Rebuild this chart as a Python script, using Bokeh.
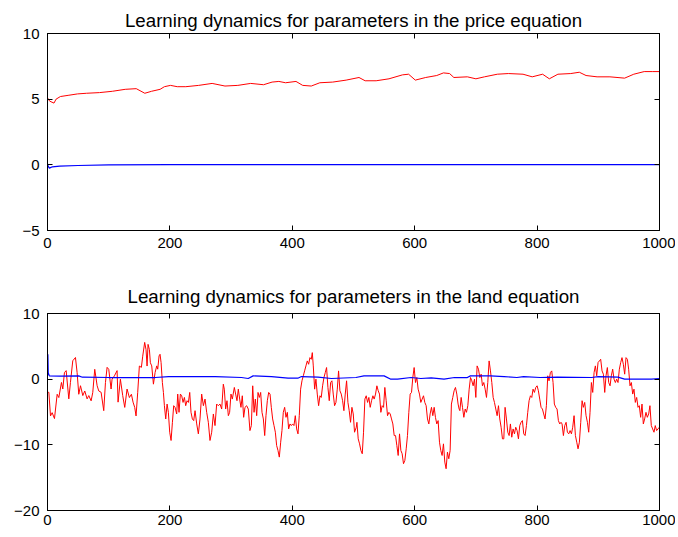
from bokeh.plotting import figure
from bokeh.layouts import column
from bokeh.models import LinearAxis, FixedTicker, Range1d, CustomJSTickFormatter
from bokeh.embed import file_html
from bokeh.resources import INLINE

# ---------------- data ----------------
title_price = "Learning dynamics for parameters in the price equation"
title_land = "Learning dynamics for parameters in the land equation"
x_ticks = [0, 200, 400, 600, 800, 1000]
price_y_ticks = [-5, 0, 5, 10]
land_y_ticks = [-20, -10, 0, 10]

price_red_x = [0, 3.5, 10.6, 14, 21, 35, 49, 64, 85, 106, 127, 145, 159, 170, 184, 191, 201, 212, 226, 247,
               269, 290, 311, 332, 353, 367, 378, 389, 406, 417, 431, 445, 466, 488, 509, 519, 537, 558, 580, 590,
               601, 618, 636, 647, 657, 664, 686, 700, 714, 735, 753, 777, 792, 809, 820, 834, 855, 869, 880, 898,
               919, 943, 958, 975, 989, 1000]
price_red_y = [5.1, 4.85, 4.7, 5.0, 5.2, 5.3, 5.4, 5.45, 5.5, 5.6, 5.75, 5.8, 5.45, 5.6, 5.75, 5.95, 6.05, 5.95, 5.95, 6.05,
               6.2, 6.0, 6.05, 6.2, 6.1, 6.3, 6.35, 6.25, 6.35, 6.05, 6.0, 6.25, 6.3, 6.45, 6.65, 6.4, 6.4, 6.55, 6.85, 6.9,
               6.45, 6.65, 6.8, 7.0, 6.95, 6.65, 6.7, 6.55, 6.7, 6.9, 6.95, 6.9, 6.7, 6.9, 6.55, 6.9, 6.95, 7.05, 6.8, 6.7,
               6.7, 6.6, 6.9, 7.1, 7.1, 7.1]

price_blue_x = [0, 1, 3, 8, 20, 50, 100, 200, 400, 600, 800, 1000]
price_blue_y = [0.1, -0.1, -0.25, -0.15, -0.1, -0.05, 0.0, 0.02, 0.02, 0.02, 0.02, 0.02]

land_red_x = [0.5, 2.2, 4.9, 7.6, 11.4, 15.8, 18.5, 22.8, 25.0, 27.7, 30.5, 34.8, 37.5, 41.3, 45.7, 48.4, 51.1, 53.9,
              57.7, 60.9, 64.7, 67.5, 71.3, 74.0, 77.2, 81.1, 83.8, 87.6, 91.9, 94.7, 97.4, 100.1, 103.9, 105.5, 109.3,
              113.7, 115.3, 119.1, 122.9, 126.2, 130.0, 133.8, 137.1, 139.8, 142.5, 144.7, 147.4, 150.1, 153.4, 155.6,
              158.8, 161.0, 162.7, 164.3, 166.5, 168.1,
              170.3, 173.1, 175.8, 178.5, 180.1, 182.3, 183.9, 185.6, 187.7, 189.4, 191.0, 193.2, 195.4, 197.5, 199.7,
              201.9, 204.1, 206.2, 208.4, 211.1, 212.8, 214.9, 217.1, 219.3, 221.5, 223.7, 225.8, 228.0, 230.2, 232.4,
              234.5, 236.7, 238.9, 241.1, 243.8, 246.5, 249.2, 251.9, 254.7, 257.4, 260.1, 262.8, 265.5, 268.3, 271.0,
              273.7, 276.4, 279.1, 281.9, 284.6, 287.3, 288.9, 291.1, 293.3, 295.5, 297.6, 299.8, 302.0, 305.3, 307.4,
              309.6, 311.8, 314.0, 316.1, 318.3, 320.5, 322.7, 325.4, 328.1, 330.8,
              333.1, 335.3, 337.5, 339.6, 341.8, 344.0, 346.2, 348.3, 350.5, 352.7, 354.9, 357.0, 359.2, 361.4, 363.6,
              365.7, 367.9, 370.1, 372.3, 374.4, 376.6, 378.8, 381.0, 383.1, 385.3, 387.5, 389.7, 391.9, 394.0, 396.2,
              398.4, 400.6, 402.7, 404.9, 407.1, 409.3, 411.4, 413.6, 415.8, 418.0, 420.1, 422.3, 424.5, 426.7, 428.8,
              431.0, 432.7, 434.3, 436.5, 438.6, 440.8, 443.0, 445.2, 447.3, 449.5, 451.7, 453.9, 456.0, 458.2, 460.4,
              462.6, 464.7, 466.9, 469.1, 471.3, 473.5, 475.6, 477.8, 480.0, 482.2, 484.3, 486.5, 488.7, 490.9, 493.0,
              495.2, 497.4, 499.6, 501.7, 504.5,
              505.6, 507.7, 509.9, 512.1, 514.3, 516.4, 518.6, 520.8, 523.0, 525.1, 527.3, 529.5, 531.7, 533.8, 536.0,
              538.2, 540.4, 542.5, 544.7, 546.9, 549.1, 551.2, 553.4, 555.6, 557.8, 560.0, 562.1, 564.3, 566.5, 568.7,
              570.8, 573.0, 575.2, 577.4, 579.5, 581.7, 583.9, 586.1, 588.2, 590.4, 592.6, 594.8, 596.9, 599.1, 601.3,
              603.5, 605.6, 607.8, 610.0, 612.2, 614.4, 616.5, 618.7, 620.9, 623.1, 625.2, 627.4, 629.6, 631.8, 633.9,
              636.1, 638.3, 640.5, 642.6, 644.8, 647.0, 649.2, 651.3, 653.5, 655.7, 657.9, 660.0, 662.2, 664.4, 666.6,
              668.8, 670.9, 672.6,
              673.8, 675.9, 678.1, 680.3, 682.5, 684.6, 686.8, 689.0, 691.2, 693.3, 695.5, 697.7, 699.9, 702.0, 704.2,
              706.4, 708.6, 710.7, 712.9, 715.1, 717.3, 719.4, 721.6, 723.8, 726.0, 728.2, 730.3, 732.5, 734.7, 736.9,
              739.0, 741.2, 743.4, 745.6, 747.7, 749.9, 752.1, 754.3, 756.4, 758.6, 760.8, 763.0, 765.1, 767.3, 769.5,
              771.7, 773.8, 776.0, 778.2, 780.4, 782.6, 784.7, 786.9, 789.1, 791.3, 793.4, 795.6, 797.8, 800.0, 802.1,
              804.3, 806.5, 808.7, 810.8, 813.0, 815.2, 817.4, 819.5, 821.7, 823.9, 826.1, 828.2, 830.4, 832.6, 834.8,
              837.0, 839.1, 840.8,
              843.0, 845.2, 847.4, 849.5, 851.7, 853.9, 856.1, 858.2, 860.4, 862.6, 864.8, 866.9, 869.1, 871.3, 873.5,
              875.6, 877.8, 880.0, 882.2, 884.3, 886.5, 888.7, 890.9, 893.1, 895.2, 897.4, 899.6, 901.8, 903.9, 906.1,
              908.3, 910.5, 912.6, 914.8, 917.0, 919.2, 921.3, 923.5, 925.7, 927.9, 930.0, 932.2, 934.4, 936.6, 938.7,
              940.9, 943.1, 945.3, 947.5, 949.6, 951.8, 954.0, 956.2, 958.3, 960.5, 962.7, 964.9, 967.0, 969.2, 971.4,
              973.6, 975.7, 977.9, 980.1, 982.3, 984.4, 986.6, 988.8, 991.0, 993.1, 995.3, 997.5, 1000.0]
land_red_y = [-2.0, -2.0, -5.6, -5.1, -6.0, -2.3, -2.8, -0.5, -1.5, 1.0, 1.3, -3.0, -0.5, 2.8, 3.3, 1.0, -2.3, -1.0,
              -2.5, -1.8, -3.0, -2.5, -3.3, -2.0, 1.5, -1.0, -1.8, -2.0, -4.8, -0.5, 1.8, 1.5, -1.5, 0.0, 0.5,
              1.3, -3.5, 0.0, -2.5, -4.3, -1.5, -2.8, -2.3, -3.5, -4.3, -5.6, -2.0, 2.0, 1.8, 3.5,
              5.6, 4.5, 2.0, 5.3, 4.5, 2.5,
              2.02, -0.76, 1.01, 2.02, 1.52, 3.54, 3.79, 2.53, -0.51, -2.02, -4.04, -6.06, -3.79, -5.05, -8.08,
              -9.34, -6.57, -4.04, -4.29, -5.30, -2.27, -5.05, -2.27, -2.53, -3.54, -2.78, -4.04, -3.28, -3.54, -2.02,
              -5.05, -6.06, -6.31, -4.80, -6.82, -8.33, -6.06, -2.27, -4.04, -3.03, -5.05, -6.57, -9.34, -8.08, -5.30,
              -7.07, -3.79, -4.04, -3.79, -4.55, -0.76, -1.52, -4.55, -3.28, -5.56, -5.05, -2.27, -3.03, -1.26, -2.27,
              -3.28, -1.52, -3.03, -4.29, -2.53, -5.81, -4.29, -4.04, -4.55, -7.83,
              -7.07, -1.01, -5.05, -3.03, -5.56, -2.02, -2.78, -2.02, -5.05, -6.06, -8.59, -5.56, -3.28, -2.02, -2.27,
              -4.29, -6.06, -7.07, -8.08, -10.10, -10.86, -11.87, -9.60, -7.83, -5.05, -4.29, -5.81, -5.05, -7.58, -6.82,
              -7.07, -6.82, -7.07, -5.56, -7.58, -8.33, -5.56, -1.52, -0.25, 0.51, 1.26, 2.02, 2.78, 2.27, 3.28,
              3.03, 4.04, 2.02, -1.52, 0.0, -2.27, -4.04, -2.53, -2.78, -1.01, 0.25, 1.01, 1.77, -1.26, -3.28,
              -0.51, -0.25, -2.27, -4.04, -3.54, -1.52, 1.26, -1.77, -2.27, -3.28, -4.80, -2.27, -0.25, -3.54, -4.80,
              -6.57, -4.29, -5.30, -8.08, -7.32,
              -6.57, -9.09, -9.85, -10.86, -11.36, -8.08, -3.03, -2.53, -3.54, -2.78, -4.29, -3.28, -2.53, -3.03, -2.27,
              -1.01, -1.77, -2.27, -5.05, -4.04, -4.29, -1.26, -3.28, -5.56, -5.05, -5.30, -6.06, -6.82, -8.59, -8.59,
              -10.10, -11.62, -8.33, -10.86, -11.36, -12.88, -12.37, -10.61, -8.59, -5.05, -2.27, -2.02, 0.25, 1.77, -0.51,
              0.25, -1.52, -2.27, -3.54, -3.03, -2.53, -3.54, -4.04, -6.06, -6.82, -5.30, -4.29, -5.56, -4.29, -5.81,
              -6.82, -6.31, -9.60, -10.86, -11.62, -9.85, -12.63, -13.64, -11.11, -12.12, -10.86, -3.79, -2.78, -1.77, -1.26,
              -2.27, -3.79, -4.55,
              -4.80, -2.78, -4.29, -5.81, -4.55, -5.05, -4.04, -1.52, 0.25, -0.25, -1.01, 0.0, -2.78, 2.02, 1.52,
              0.25, 0.76, -1.01, -0.51, -1.52, -2.78, -0.51, 2.78, 1.26, -0.51, -2.78, -3.54, -4.55, -5.56, -4.04,
              -6.06, -7.32, -9.09, -9.09, -4.29, -6.06, -8.08, -8.59, -6.82, -8.84, -7.58, -8.33, -7.32, -7.83, -9.09,
              -7.07, -6.57, -6.31, -8.33, -8.59, -7.07, -5.05, -3.28, -2.53, -2.78, -1.52, -2.02, -1.26, -1.01, -1.77,
              -3.03, -4.29, -4.55, -5.30, -6.06, -4.04, 0.51, -0.25, 1.01, 1.26, -0.51, -3.79, -4.29, -4.55, -6.31,
              -6.82, -6.57, -6.82,
              -8.59, -7.07, -6.57, -8.08, -8.33, -7.83, -8.33, -7.32, -5.56, -8.59, -9.60, -10.61, -9.60, -6.57, -3.28,
              -4.29, -3.54, -5.56, -6.57, -8.08, -5.05, -0.51, -2.02, 1.01, 2.02, 0.51, 2.53, 2.78, 3.03, 1.26,
              0.76, -2.02, 0.51, 1.77, -0.51, -1.01, 0.51, 1.52, 0.0, -0.51, 0.0, -0.51, 1.52, 2.53, 3.28,
              2.27, 0.76, 3.28, 3.03, 1.52, -1.01, -0.51, -2.27, -1.52, -3.54, -2.78, -4.29, -4.04, -5.81, -3.79,
              -6.82, -6.06, -5.05, -5.81, -5.30, -4.04, -7.07, -7.58, -8.08, -7.07, -7.83, -7.58, -7.3]

land_blue_x = [0, 0.6, 1.2, 3, 20, 51, 57, 100, 165, 176, 198, 274, 317, 328, 336, 366, 393, 409, 415, 442, 464, 504,
               517, 550, 561, 572, 594, 610, 627, 648, 665, 686, 691, 724, 746, 767, 778, 805, 833, 889, 900, 932,
               943, 987, 1000]
land_blue_y = [0.5, 3.8, 1.0, 0.5, 0.45, 0.5, 0.3, 0.25, 0.25, 0.25, 0.4, 0.4, 0.25, 0.1, 0.5, 0.4, 0.15, 0.15, 0.4, 0.3,
               0.1, 0.25, 0.5, 0.5, 0.0, 0.0, 0.25, 0.1, 0.2, 0.0, 0.25, 0.25, 0.5, 0.5, 0.4, 0.25, 0.4, 0.25, 0.3,
               0.25, 0.4, 0.3, 0.0, 0.0, 0.1]

FONT = "Liberation Sans"
TICK_SIZE = "15px"


def style(p, yticks, x_standoff, title_standoff):
    p.title.text_font = FONT
    p.title.text_font_size = "18.7px"
    p.title.text_font_style = "normal"
    p.title.text_color = "black"
    p.title.align = "center"
    p.title.standoff = title_standoff
    p.outline_line_color = "black"
    p.outline_line_width = 1
    p.xgrid.visible = False
    p.ygrid.visible = False
    for ax in p.xaxis:
        ax.ticker = FixedTicker(ticks=x_ticks)
        ax.major_label_standoff = x_standoff
    for ax in p.yaxis:
        ax.ticker = FixedTicker(ticks=yticks)
        ax.major_label_standoff = 8
    for ax in list(p.xaxis) + list(p.yaxis):
        ax.major_label_text_font = FONT
        ax.major_label_text_font_size = TICK_SIZE
        ax.major_label_text_color = "black"
        ax.axis_line_color = "black"
        ax.major_tick_in = 5
        ax.major_tick_out = 0
        ax.major_tick_line_color = "black"
        ax.minor_tick_line_color = None
    # mirrored ticks on the top and right, without labels
    blank = CustomJSTickFormatter(code="return ''")
    top = LinearAxis(ticker=FixedTicker(ticks=x_ticks), formatter=blank, major_tick_in=5, major_tick_out=0,
                     minor_tick_line_color=None, axis_line_color="black", major_label_standoff=0,
                     major_label_text_font_size="0px")
    right = LinearAxis(ticker=FixedTicker(ticks=yticks), formatter=blank, major_tick_in=5, major_tick_out=0,
                       minor_tick_line_color=None, axis_line_color="black", major_label_standoff=0,
                       major_label_text_font_size="0px")
    p.add_layout(top, "above")
    p.add_layout(right, "right")


p1 = figure(width=675, height=270, output_backend="svg", toolbar_location=None,
            x_range=Range1d(0, 1000), y_range=Range1d(-5, 10), title=title_price,
            min_border_left=47, min_border_right=16, min_border_top=33, min_border_bottom=40)
p1.line(price_red_x, price_red_y, line_color="#ff0000", line_width=1)
p1.line(price_blue_x, price_blue_y, line_color="#0000ff", line_width=1.2)
style(p1, price_y_ticks, 7, 6)

p2 = figure(width=675, height=267, output_backend="svg", toolbar_location=None,
            x_range=Range1d(0, 1000), y_range=Range1d(-20, 10), title=title_land,
            min_border_left=47, min_border_right=16, min_border_top=43, min_border_bottom=27)
p2.line(land_red_x, land_red_y, line_color="#ff0000", line_width=1)
p2.line(land_blue_x, land_blue_y, line_color="#0000ff", line_width=1.2)
style(p2, land_y_ticks, 4, 14)

for p in (p1, p2):
    p.background_fill_color = "white"
    p.border_fill_color = "white"

layout = column(p1, p2, spacing=0)
open("out.html", "w").write(file_html(layout, INLINE))
